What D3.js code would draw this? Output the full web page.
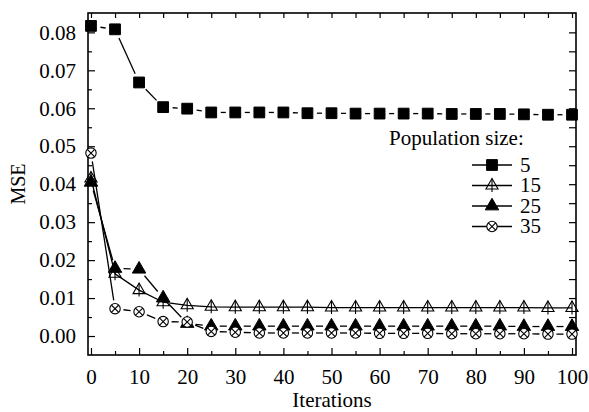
<!DOCTYPE html>
<html>
<head>
<meta charset="utf-8">
<script src="https://cdn.jsdelivr.net/npm/d3@7"></script>
<style>
  body { margin: 0; background: #fff; }
  svg { display: block; }
</style>
</head>
<body>
<svg id="main"></svg>
<script>
// data
let iterations = [0, 5, 10, 15, 20, 25, 30, 35, 40, 45, 50, 55, 60, 65, 70, 75, 80, 85, 90, 95, 100]
let mse5  = [0.0817, 0.0808, 0.0668, 0.0603, 0.0599, 0.0589, 0.0589, 0.0589, 0.0589, 0.0587, 0.0587,
             0.0586, 0.0586, 0.0586, 0.0586, 0.0585, 0.0585, 0.0585, 0.0584, 0.0583, 0.0583]
let mse15 = [0.0415, 0.0164, 0.0121, 0.0089, 0.0081, 0.0077, 0.0076, 0.0076, 0.0076, 0.0076, 0.0075,
             0.0075, 0.0075, 0.0075, 0.0075, 0.0075, 0.0075, 0.0075, 0.0075, 0.0074, 0.0074]
let mse25 = [0.0405, 0.0178, 0.0176, 0.0100, 0.0033, 0.0026, 0.0026, 0.0026, 0.0026, 0.0026, 0.0026,
             0.0026, 0.0026, 0.0026, 0.0026, 0.0026, 0.0026, 0.0026, 0.0025, 0.0025, 0.0025]
let mse35 = [0.0482, 0.0072, 0.0064, 0.0038, 0.0037, 0.0012, 0.0010, 0.0008, 0.0008, 0.0008, 0.0008,
             0.0008, 0.0007, 0.0007, 0.0007, 0.0006, 0.0006, 0.0006, 0.0006, 0.0005, 0.0005]
let seriesNames = ['5', '15', '25', '35']
let legendTitle = 'Population size:'
let xTicks = [0, 10, 20, 30, 40, 50, 60, 70, 80, 90, 100]
let yTicks = [0.00, 0.01, 0.02, 0.03, 0.04, 0.05, 0.06, 0.07, 0.08]

let width = 589
let height = 412
let plotLeft = 88, plotRight = 576, plotTop = 13, plotBottom = 355
let fontSize = 21
let serif = '"Liberation Serif", "Times New Roman", serif'

let svg = d3.select('#main').attr('width', width).attr('height', height)

let xScale = d3.scaleLinear().domain([-0.62, 100.83]).range([plotLeft, plotRight])
let yScale = d3.scaleLinear().domain([-0.005, 0.0851]).range([plotBottom, plotTop])

const label = (sel, size) => sel.style('font-family', serif).style('font-size', size + 'px').attr('fill', '#000')

// marker painters, drawn centred at 0,0
const markers = {
    square: g => g.append('path').attr('d', d3.symbol(d3.symbolSquare, 116)())
        .attr('fill', '#000').attr('stroke', '#000'),
    openTri: g => {
        g.append('path').attr('d', d3.symbol(d3.symbolTriangle, 64)())
            .attr('fill', 'none').attr('stroke', '#000').attr('stroke-width', 1.1)
        g.append('line').attr('x1', 0).attr('x2', 0).attr('y1', -7).attr('y2', 6.5)
            .attr('stroke', '#000').attr('stroke-width', 1.1)
    },
    filledTri: g => g.append('path').attr('d', d3.symbol(d3.symbolTriangle, 78)())
        .attr('fill', '#000').attr('stroke', '#000'),
    circleX: g => {
        g.append('circle').attr('r', 5.2).attr('fill', '#fff')
            .attr('stroke', '#000').attr('stroke-width', 1.1)
        g.append('path').attr('d', 'M-3.7,-3.7L3.7,3.7M-3.7,3.7L3.7,-3.7')
            .attr('stroke', '#000').attr('stroke-width', 1.1)
    }
}

let series = [
    { name: seriesNames[0], values: mse5,  marker: 'square',    gap: 9.5 },
    { name: seriesNames[1], values: mse15, marker: 'openTri',   gap: 0 },
    { name: seriesNames[2], values: mse25, marker: 'filledTri', gap: 8.5 },
    { name: seriesNames[3], values: mse35, marker: 'circleX',   gap: 8.5 }
]

const generateAxes = () => {
    const style = g => {
        g.select('.domain').remove()
        g.selectAll('line').attr('stroke-width', 1.2)
        g.selectAll('text').call(label, fontSize)
    }
    let minorX = d3.range(5, 100, 10)
    let allX = d3.range(0, 101, 5)
    let minorY = d3.range(1, 16, 2).map(d => d * 0.005)
    let allY = d3.range(0, 17).map(d => d * 0.005)

    svg.append('g').attr('transform', `translate(0,${plotBottom})`)
        .call(d3.axisBottom(xScale).tickValues(xTicks).tickSize(-7).tickPadding(14).tickFormat(d3.format('d')))
        .call(style)
    svg.append('g').attr('transform', `translate(0,${plotBottom})`)
        .call(d3.axisBottom(xScale).tickValues(minorX).tickSize(-4).tickFormat(''))
        .call(style)
    svg.append('g').attr('transform', `translate(0,${plotTop})`)
        .call(d3.axisTop(xScale).tickValues(allX).tickSize(-5).tickFormat(''))
        .call(style)

    svg.append('g').attr('transform', `translate(${plotLeft},0)`)
        .call(d3.axisLeft(yScale).tickValues(yTicks).tickSize(-7).tickPadding(12).tickFormat(d3.format('.2f')))
        .call(style)
    svg.append('g').attr('transform', `translate(${plotLeft},0)`)
        .call(d3.axisLeft(yScale).tickValues(minorY).tickSize(-4).tickFormat(''))
        .call(style)
    svg.append('g').attr('transform', `translate(${plotRight},0)`)
        .call(d3.axisRight(yScale).tickValues(allY).tickSize(-7).tickFormat(''))
        .call(style)

    svg.append('rect')
        .attr('x', plotLeft).attr('y', plotTop)
        .attr('width', plotRight - plotLeft).attr('height', plotBottom - plotTop)
        .attr('fill', 'none').attr('stroke', '#000').attr('stroke-width', 1.6)

    svg.append('text')
        .attr('x', (plotLeft + plotRight) / 2).attr('y', 407)
        .attr('text-anchor', 'middle').call(label, fontSize)
        .text('Iterations')
    svg.append('text')
        .attr('transform', `translate(25,${(plotTop + plotBottom) / 2}) rotate(-90)`)
        .attr('text-anchor', 'middle').call(label, 20)
        .text('MSE')
}

const plotSeries = () => {
    series.forEach(s => {
        let pts = s.values.map((v, i) => [xScale(iterations[i]), yScale(v)])
        let g = svg.append('g')
        if (s.gap === 0) {
            g.append('path').datum(pts)
                .attr('d', d3.line())
                .attr('fill', 'none').attr('stroke', '#000').attr('stroke-width', 1.3)
        } else {
            // line stops short of each symbol
            d3.pairs(pts).forEach(([a, b]) => {
                let dx = b[0] - a[0], dy = b[1] - a[1]
                let len = Math.hypot(dx, dy)
                if (len <= 2 * s.gap) return
                let ux = dx / len, uy = dy / len
                g.append('line')
                    .attr('x1', a[0] + ux * s.gap).attr('y1', a[1] + uy * s.gap)
                    .attr('x2', b[0] - ux * s.gap).attr('y2', b[1] - uy * s.gap)
                    .attr('stroke', '#000').attr('stroke-width', 1.3)
            })
        }
        pts.forEach(p => {
            let m = g.append('g').attr('transform', `translate(${p[0]},${p[1]})`)
            markers[s.marker](m)
        })
    })
}

const drawLegend = () => {
    let lg = svg.append('g')
    lg.append('text').attr('x', 389).attr('y', 145)
        .call(label, fontSize).text(legendTitle)
    series.forEach((s, i) => {
        let y = 165 + i * 20.5
        lg.append('line').attr('x1', 472).attr('x2', 512).attr('y1', y).attr('y2', y)
            .attr('stroke', '#000').attr('stroke-width', 1.3)
        let m = lg.append('g').attr('transform', `translate(492,${y})`)
        markers[s.marker](m)
        lg.append('text').attr('x', 520).attr('y', y).attr('dy', '0.33em')
            .call(label, fontSize).text(s.name)
    })
}

generateAxes()
plotSeries()
drawLegend()
</script>
</body>
</html>
